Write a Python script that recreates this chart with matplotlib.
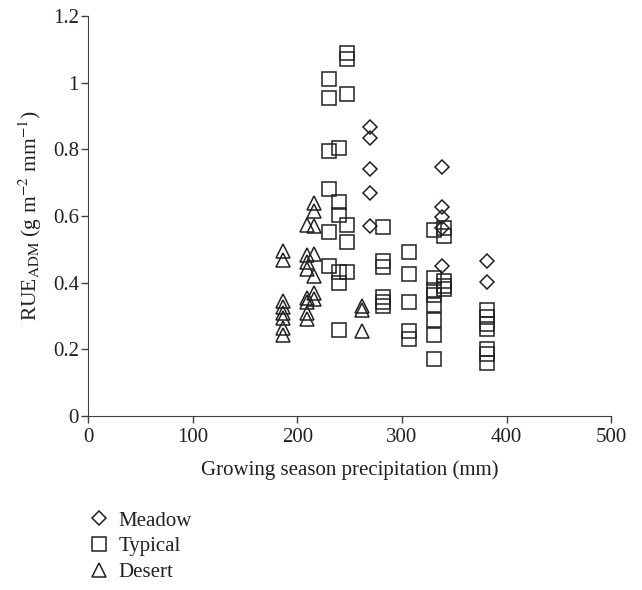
import numpy as np
import matplotlib.pyplot as plt

plt.rcParams['font.family'] = ['Liberation Serif', 'DejaVu Serif']
plt.rcParams['mathtext.fontset'] = 'stix'

# growing season precipitation (mm) and RUE_ADM for each grassland type
meadow_x = [270, 270, 270, 270, 270,
            338, 338, 338, 338, 338,
            381, 381]
meadow_y = [0.868, 0.835, 0.74, 0.668, 0.571,
            0.748, 0.627, 0.598, 0.565, 0.45,
            0.464, 0.403]

typical_x = [230]*6 + [240]*6 + [248]*6 + [282]*6 + [307]*5 + [331]*8 + [340]*5 + [381]*7
typical_y = [1.01, 0.953, 0.794, 0.68, 0.552, 0.449,
             0.805, 0.642, 0.603, 0.431, 0.398, 0.259,
             1.088, 1.07, 0.967, 0.574, 0.521, 0.432,
             0.567, 0.464, 0.446, 0.356, 0.343, 0.329,
             0.493, 0.425, 0.343, 0.255, 0.232,
             0.557, 0.414, 0.377, 0.364, 0.333, 0.287, 0.242, 0.172,
             0.565, 0.54, 0.405, 0.39, 0.38,
             0.319, 0.298, 0.275, 0.26, 0.2, 0.185, 0.16]

desert_x = [186]*8 + [209]*8 + [216]*7 + [262]*3
desert_y = [0.494, 0.468, 0.346, 0.328, 0.31, 0.295, 0.265, 0.242,
            0.572, 0.484, 0.461, 0.44, 0.355, 0.343, 0.31, 0.29,
            0.638, 0.615, 0.571, 0.487, 0.421, 0.369, 0.352,
            0.329, 0.318, 0.256]

xticks = [0, 100, 200, 300, 400, 500]
yticks = [0, 0.2, 0.4, 0.6, 0.8, 1, 1.2]
ytick_labels = ['0', '0.2', '0.4', '0.6', '0.8', '1', '1.2']

ink = '#231f20'
fs = 15
fig = plt.figure(figsize=(6.42, 5.90), dpi=100)
ax = fig.add_axes([0.137, 0.295, 0.815, 0.678])

kw = dict(ls='none', mfc='none', mec=ink, mew=1.1)
ax.plot(meadow_x, meadow_y, marker='D', ms=7.6, label='Meadow', **kw)
ax.plot(typical_x, typical_y, marker='s', ms=9.4, label='Typical', **kw)
ax.plot(desert_x, desert_y, marker='^', ms=10.5, label='Desert', **kw)

ax.set_xlim(0, 500)
ax.set_ylim(0, 1.2)
ax.set_xticks(xticks)
ax.set_yticks(yticks)
ax.set_yticklabels(ytick_labels)
ax.tick_params(direction='out', length=5, width=1, colors='#404040',
               labelcolor=ink, labelsize=fs)
ax.tick_params(axis='y', pad=1.5)
ax.tick_params(axis='x', pad=4)
for s in ['top', 'right']:
    ax.spines[s].set_visible(False)
for s in ['left', 'bottom']:
    ax.spines[s].set_color('#404040')
ax.set_xlabel('Growing season precipitation (mm)', fontsize=fs, color=ink, labelpad=9)
ax.set_ylabel(r'RUE$_{\mathrm{ADM}}$ (g m$^{-2}$ mm$^{-1}$)', fontsize=15.5, color=ink, labelpad=6)

fig.legend(loc='upper left', bbox_to_anchor=(0.138, 0.134), frameon=False,
           fontsize=fs, handlelength=1, handletextpad=0.45, labelspacing=0.3,
           borderpad=0, borderaxespad=0, labelcolor=ink, numpoints=1)

fig.savefig('out.png', dpi=100)
